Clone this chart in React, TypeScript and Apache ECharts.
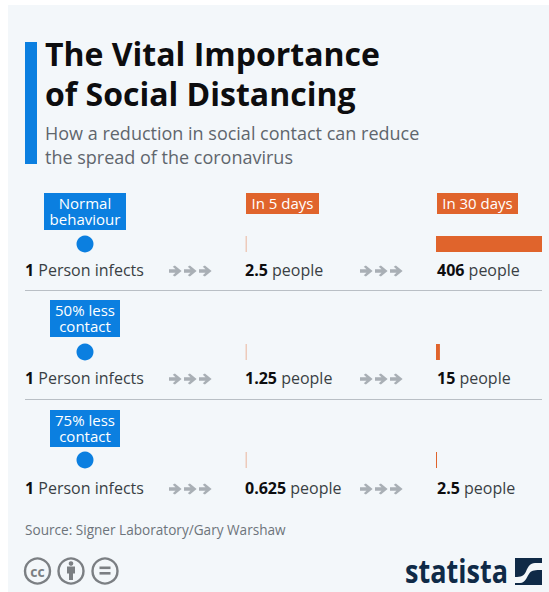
import React, { useEffect, useRef } from "react";
import * as echarts from "echarts";

const titleLines = ["The Vital Importance", "of Social Distancing"];
const subtitleLines = ["How a reduction in social contact can reduce", "the spread of the coronavirus"];
const scenarios = ["Normal\nbehaviour", "50% less\ncontact", "75% less\ncontact"];
const periods = ["In 5 days", "In 30 days"];
const rowIds = ["normal", "50", "75"];
const origin = [1, 1, 1];
const in5Days = [2.5, 1.25, 0.625];
const in30Days = [406, 15, 2.5];
const sourceText = "Source: Signer Laboratory/Gary Warshaw";

const FONT = "'Open Sans'";
const BLUE = "#0b7fe0";
const ORANGE = "#e0642c";
const INK = "#0d0d0f";
const GRAY = "#5f666d";

echarts.graphic.registerShape(
  "flowArrow",
  echarts.graphic.extendPath(
    "M0 3.8 L6.2 3.8 L3.6 1.3 L5.6 0 L12 5.5 L5.6 11 L3.6 9.7 L6.2 7.2 L0 7.2 Z",
    {}
  )
);
echarts.graphic.registerShape(
  "swoosh",
  echarts.graphic.extendPath(
    "M0 25 L5 25 C11 25 12 18 15 14.5 C17 12.5 20 12 27 12 L27 5 L20 5 C15 5 13 9 11 13.5 C9 18 6 19 0 19 Z",
    {}
  )
);

function buildGraphic() {
  const g: any[] = [];
  g.push({ type: "rect", z: 0, shape: { x: 8, y: 5, width: 541, height: 587 }, style: { fill: "#f3f7fa" } });
  g.push({ type: "rect", z: 5, shape: { x: 25, y: 42, width: 12, height: 122 }, style: { fill: BLUE } });

  titleLines.forEach((t, i) =>
    g.push({
      type: "text", z: 5, x: 45, y: 53 + i * 40,
      style: { text: t, fill: INK, font: `700 32px ${FONT}`, align: "left", verticalAlign: "middle" },
    })
  );
  subtitleLines.forEach((t, i) =>
    g.push({
      type: "text", z: 5, x: 45, y: 132.5 + i * 24.5,
      style: { text: t, fill: GRAY, font: `400 18px ${FONT}`, align: "left", verticalAlign: "middle" },
    })
  );

  const tagBoxes = [
    { x: 44, w: 82, y: 193 },
    { x: 50, w: 70, y: 300 },
    { x: 50, w: 70, y: 410 },
  ];
  scenarios.forEach((s, i) => {
    const b = tagBoxes[i];
    g.push({ type: "rect", z: 5, shape: { x: b.x, y: b.y, width: b.w, height: 37 }, style: { fill: BLUE } });
    g.push({
      type: "text", z: 6, x: b.x + b.w / 2, y: b.y + 18,
      style: {
        text: s, fill: "#ffffff", font: `500 15px ${FONT}`, lineHeight: 16.5,
        align: "center", verticalAlign: "middle",
      },
    });
  });

  const periodBoxes = [
    { x: 246, w: 73 },
    { x: 437, w: 81 },
  ];
  periods.forEach((p, i) => {
    const b = periodBoxes[i];
    g.push({ type: "rect", z: 5, shape: { x: b.x, y: 193, width: b.w, height: 21 }, style: { fill: ORANGE } });
    g.push({
      type: "text", z: 6, x: b.x + b.w / 2, y: 203,
      style: { text: p, fill: "#ffffff", font: `500 15px ${FONT}`, align: "center", verticalAlign: "middle" },
    });
  });

  const rich = {
    b: { fontFamily: "Open Sans", fontWeight: 700, fontSize: 16, fill: INK },
    n: { fontFamily: "Open Sans", fontWeight: 400, fontSize: 16, fill: "#3a3f44" },
  };
  const rowY = [269.5, 377.5, 487.5];
  rowY.forEach((y, i) => {
    const items = [
      { x: 25, v: origin[i], t: " Person infects" },
      { x: 245, v: in5Days[i], t: " people" },
      { x: 437, v: in30Days[i], t: " people" },
    ];
    items.forEach((it) =>
      g.push({
        type: "text", z: 5, x: it.x, y,
        style: { text: `{b|${it.v}}{n|${it.t}}`, rich, align: "left", verticalAlign: "middle" },
      })
    );
    [169, 360].forEach((ax) => {
      [0, 15, 30].forEach((dx) =>
        g.push({
          type: "flowArrow", z: 5, x: ax + dx, y: y - 4, scaleX: 1.05, scaleY: 1,
          style: { fill: "#a9afb5" },
        })
      );
    });
  });

  [290.5, 399.5].forEach((y) =>
    g.push({ type: "line", z: 5, shape: { x1: 25, y1: y, x2: 542, y2: y }, style: { stroke: "#b9bfc5", lineWidth: 1 } })
  );

  g.push({
    type: "text", z: 5, x: 25, y: 529,
    style: { text: sourceText, fill: "#6d747b", font: `400 13.6px ${FONT}`, align: "left", verticalAlign: "middle" },
  });

  const iconC = "#7b7f83";
  [37.5, 71, 105].forEach((cx) =>
    g.push({ type: "circle", z: 5, shape: { cx, cy: 571, r: 12.5 }, style: { fill: "#f3f7fa", stroke: iconC, lineWidth: 2.4 } })
  );
  g.push({
    type: "text", z: 6, x: 37.5, y: 571,
    style: { text: "cc", fill: iconC, font: `700 14px ${FONT}`, align: "center", verticalAlign: "middle" },
  });
  g.push({ type: "circle", z: 6, shape: { cx: 71, cy: 563.5, r: 2.3 }, style: { fill: iconC } });
  g.push({ type: "rect", z: 6, shape: { x: 67, y: 566.5, width: 8, height: 7 }, style: { fill: iconC } });
  g.push({ type: "rect", z: 6, shape: { x: 69, y: 573, width: 4, height: 7 }, style: { fill: iconC } });
  g.push({ type: "rect", z: 6, shape: { x: 99.5, y: 566.5, width: 11, height: 2.6 }, style: { fill: iconC } });
  g.push({ type: "rect", z: 6, shape: { x: 99.5, y: 572, width: 11, height: 2.6 }, style: { fill: iconC } });

  g.push({
    type: "text", z: 5, x: 405, y: 570, scaleX: 0.82, originX: 0, originY: 0,
    style: { text: "statista", fill: "#0f2a47", font: `700 33px ${FONT}`, align: "left", verticalAlign: "middle" },
  });
  g.push({ type: "rect", z: 5, shape: { x: 515, y: 558, width: 27, height: 27 }, style: { fill: "#0f2a47" } });
  g.push({ type: "swoosh", z: 6, x: 515, y: 558, style: { fill: "#f3f7fa" } });
  return g;
}

export default function App() {
  const ref = useRef<HTMLDivElement>(null);
  useEffect(() => {
    const chart = echarts.init(ref.current!, undefined, { renderer: "svg" });
    const hiddenCat = (gridIndex: number) => ({
      type: "category", gridIndex, data: rowIds, inverse: true, show: false,
    });
    const hiddenVal = (gridIndex: number, max: number) => ({
      type: "value", gridIndex, min: 0, max, show: false,
    });
    const top = 190;
    const height = 324;
    chart.setOption({
      animation: false,
      backgroundColor: "#ffffff",
      textStyle: { fontFamily: "Open Sans" },
      graphic: { elements: buildGraphic() },
      grid: [
        { left: 245.5, width: 106, top, height },
        { left: 436, width: 106, top, height },
        { left: 76, width: 18, top, height },
      ],
      xAxis: [hiddenVal(0, 406), hiddenVal(1, 406), hiddenVal(2, 2)],
      yAxis: [hiddenCat(0), hiddenCat(1), hiddenCat(2)],
      series: [
        {
          type: "bar", xAxisIndex: 0, yAxisIndex: 0, data: in5Days, barWidth: 16, barMinHeight: 1.5,
          itemStyle: { color: ORANGE, opacity: 0.3 }, silent: true,
        },
        {
          type: "bar", xAxisIndex: 1, yAxisIndex: 1, data: in30Days, barWidth: 16, barMinHeight: 1,
          itemStyle: { color: ORANGE }, silent: true,
        },
        {
          type: "scatter", xAxisIndex: 2, yAxisIndex: 2, symbol: "circle", symbolSize: 17,
          data: origin.map((v, i) => [v, rowIds[i]]),
          itemStyle: { color: BLUE, opacity: 1 }, silent: true,
        },
      ],
    });
    return () => chart.dispose();
  }, []);
  return <div ref={ref} style={{ position: "absolute", left: 0, top: 0, width: 549, height: 592 }} />;
}
